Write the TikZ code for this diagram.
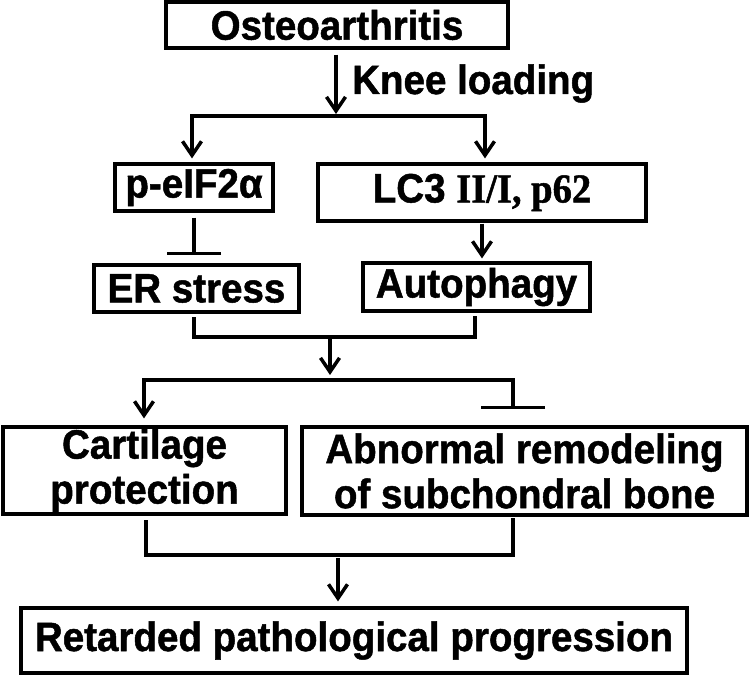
\documentclass[tikz,border=0pt]{standalone}
\usepackage{fontspec}
\setmainfont{Liberation Sans}[FakeStretch=0.94, BoldFeatures={FakeBold=1.2}]
\newfontfamily\serifb{Liberation Serif}[FakeStretch=0.94, BoldFeatures={FakeBold=1.2}]
\usetikzlibrary{arrows.meta}
\begin{document}
\begin{tikzpicture}[x=1pt,y=-1pt,
  txt/.style={font=\fontsize{41}{45}\selectfont\bfseries},
  box/.style={txt, draw, line width=3.2pt, inner sep=0pt, align=center},
  link/.style={line width=3.5pt, line cap=rect},
  arr/.style={line width=3.5pt, -{Straight Barb[length=14pt,width=19pt,line width=3.5pt]}},
  inh/.style={line width=3.5pt, -{Bar[width=#1,line width=3.5pt]}}]
\useasboundingbox (0,0) rectangle (750,676);

% boxes
\node[box, minimum width=342pt, minimum height=46pt] (osteo) at (337,25) {Osteoarthritis};
\node[txt, anchor=base west, inner sep=0pt] (knee) at (352,94) {Knee loading};
\node[box, minimum width=158pt, minimum height=47pt] (peif) at (194,187.5) {p-eIF2α};
\node[box, minimum width=328pt, minimum height=57pt] (lc3) at (482,192.5) {LC3 {\serifb II/I, p62}};
\node[box, minimum width=205pt, minimum height=47pt] (er) at (196.5,288.5) {ER stress};
\node[box, minimum width=227pt, minimum height=48pt] (auto) at (476.5,287) {Autophagy};
\node[box, minimum width=283pt, minimum height=87pt] (cart) at (144.5,470.5) {Cartilage\\protection};
\node[box, minimum width=445pt, minimum height=88pt] (abn) at (524.5,471) {Abnormal remodeling\\of subchondral bone};
\node[box, minimum width=666pt, minimum height=65pt] (ret) at (354,640.5) {Retarded pathological progression};

% junction points
\coordinate (j1) at (336,116);
\coordinate (j1l) at (192,116);
\coordinate (j1r) at (485,116);
\coordinate (j2) at (330,337);
\coordinate (j2l) at (194,337);
\coordinate (j2r) at (475,337);
\coordinate (j3) at (330,380);
\coordinate (j3l) at (144,380);
\coordinate (j3r) at (513,380);
\coordinate (j4) at (338,555);
\coordinate (j4l) at (146,555);
\coordinate (j4r) at (513,555);

% Osteoarthritis -> split
\draw[arr, shorten <=5pt, shorten >=2pt] (osteo.south -| j1) -- (j1);
\draw[link] (j1l) -- (j1r);
\draw[arr, shorten >=4pt] (j1l) -- (j1l |- peif.north);
\draw[arr, shorten >=4pt] (j1r) -- (j1r |- lc3.north);

% p-eIF2a -| ER stress
\draw[inh=54pt, shorten <=5pt, shorten >=8pt] (peif.south) -- (peif.south |- er.north);
% LC3 -> Autophagy
\draw[arr, shorten <=1pt, shorten >=3pt] (lc3.south) -- (lc3.south |- auto.north);

% merge ER stress + Autophagy
\draw[link, shorten <=5pt, shorten >=5pt] (er.south -| j2l) -- (j2l) -- (j2r) -- (auto.south -| j2r);
\draw[arr, shorten >=5pt] (j2) -- (j3);

% split to Cartilage / Abnormal
\draw[link] (j3l) -- (j3r);
\draw[arr, shorten >=7pt] (j3l) -- (j3l |- cart.north);
\draw[inh=64pt, shorten >=16pt] (j3r) -- (j3r |- abn.north);

% merge to Retarded
\draw[link, shorten <=6pt, shorten >=3pt] (cart.south -| j4l) -- (j4l) -- (j4r) -- (abn.south -| j4r);
\draw[arr, shorten <=3pt, shorten >=5pt] (j4) -- (j4 |- ret.north);
\end{tikzpicture}
\end{document}
